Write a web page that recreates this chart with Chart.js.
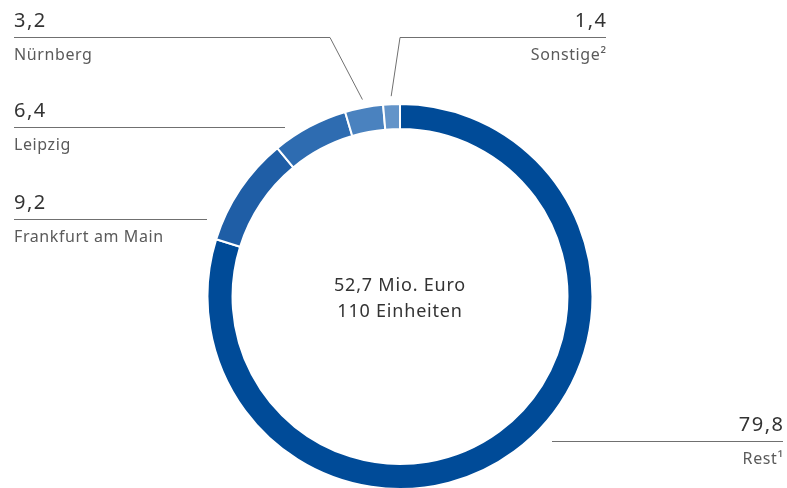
<!DOCTYPE html>
<html>
<head>
<meta charset="utf-8">
<script src="https://cdn.jsdelivr.net/npm/chart.js@4"></script>
<style>
  html, body { margin: 0; padding: 0; background: #fff; overflow: hidden; }
  #wrap { width: 787px; height: 492px; position: relative; }
</style>
</head>
<body>
<div id="wrap"><canvas id="myChart"></canvas></div>
<script>
// Anteile nach Standort in %
const standorte = ['Rest¹', 'Frankfurt am Main', 'Leipzig', 'Nürnberg', 'Sonstige²'];
const anteile = [79.8, 9.2, 6.4, 3.2, 1.4];
const farben = ['#004b98', '#1f5ea6', '#2e6cb1', '#4a82bf', '#6394c9'];
const mitteText = ['52,7 Mio. Euro', '110 Einheiten'];

// Beschriftung: Seite, Textkante, y der Linie, Linie von/bis, Knick zum Ring ja/nein
const beschriftung = [
  { side: 'right', x: 783, y: 441, x0: 552, x1: 783, knick: false },
  { side: 'left', x: 14, y: 219, x0: 14, x1: 207, knick: false },
  { side: 'left', x: 14, y: 127, x0: 14, x1: 285, knick: false },
  { side: 'left', x: 14, y: 37, x0: 14, x1: 330, knick: true },
  { side: 'right', x: 606, y: 37, x0: 400, x1: 606, knick: true }
];

function fmt(v) {
  return v.toFixed(1).replace('.', ',');
}

const labelPlugin = {
  id: 'labelPlugin',
  afterDraw(chart) {
    const ctx = chart.ctx;
    const meta = chart.getDatasetMeta(0);
    ctx.save();
    ctx.strokeStyle = '#707070';
    ctx.lineWidth = 1;
    beschriftung.forEach((b, i) => {
      const arc = meta.data[i];
      ctx.beginPath();
      if (b.knick) {
        // Knick: von der Linie schräg zum Segment
        const mid = (arc.startAngle + arc.endAngle) / 2;
        const r = arc.outerRadius + 8;
        const ex = arc.x + Math.cos(mid) * r;
        const ey = arc.y + Math.sin(mid) * r;
        if (b.side === 'left') {
          ctx.moveTo(b.x0, b.y + 0.5);
          ctx.lineTo(b.x1, b.y + 0.5);
          ctx.lineTo(ex, ey);
        } else {
          ctx.moveTo(b.x1, b.y + 0.5);
          ctx.lineTo(b.x0, b.y + 0.5);
          ctx.lineTo(ex, ey);
        }
      } else {
        ctx.moveTo(b.x0, b.y + 0.5);
        ctx.lineTo(b.x1, b.y + 0.5);
      }
      ctx.stroke();

      const rechts = b.side === 'right';
      ctx.textAlign = rechts ? 'right' : 'left';
      ctx.textBaseline = 'alphabetic';
      ctx.fillStyle = '#333';
      ctx.font = '20px "Noto Sans"';
      ctx.letterSpacing = '1.5px';
      ctx.fillText(fmt(anteile[i]), b.x + (rechts ? 1.5 : 0), b.y - 10);
      ctx.fillStyle = '#5a5a5a';
      ctx.font = '16px "Noto Sans"';
      ctx.letterSpacing = '0.6px';
      ctx.fillText(standorte[i], b.x + (rechts ? 0.6 : 0), b.y + 23);
    });

    // Text in der Mitte
    const cx = meta.data[0].x;
    const cy = meta.data[0].y;
    ctx.textAlign = 'center';
    ctx.textBaseline = 'middle';
    ctx.fillStyle = '#333';
    ctx.font = '18px "Noto Sans"';
    ctx.letterSpacing = '0.8px';
    ctx.fillText(mitteText[0], cx, cy - 11);
    ctx.fillText(mitteText[1], cx, cy + 15);
    ctx.restore();
  }
};

const data = {
  labels: standorte,
  datasets: [{
    data: anteile,
    backgroundColor: farben,
    borderColor: '#fff',
    borderWidth: 2
  }]
};

new Chart(document.getElementById('myChart'), {
  type: 'doughnut',
  data: data,
  options: {
    responsive: true,
    maintainAspectRatio: false,
    animation: false,
    cutout: '87%',
    layout: {
      padding: { top: 103, bottom: 2, left: 206, right: 193 }
    },
    plugins: {
      legend: { display: false },
      tooltip: { enabled: false }
    }
  },
  plugins: [labelPlugin]
});
</script>
</body>
</html>
